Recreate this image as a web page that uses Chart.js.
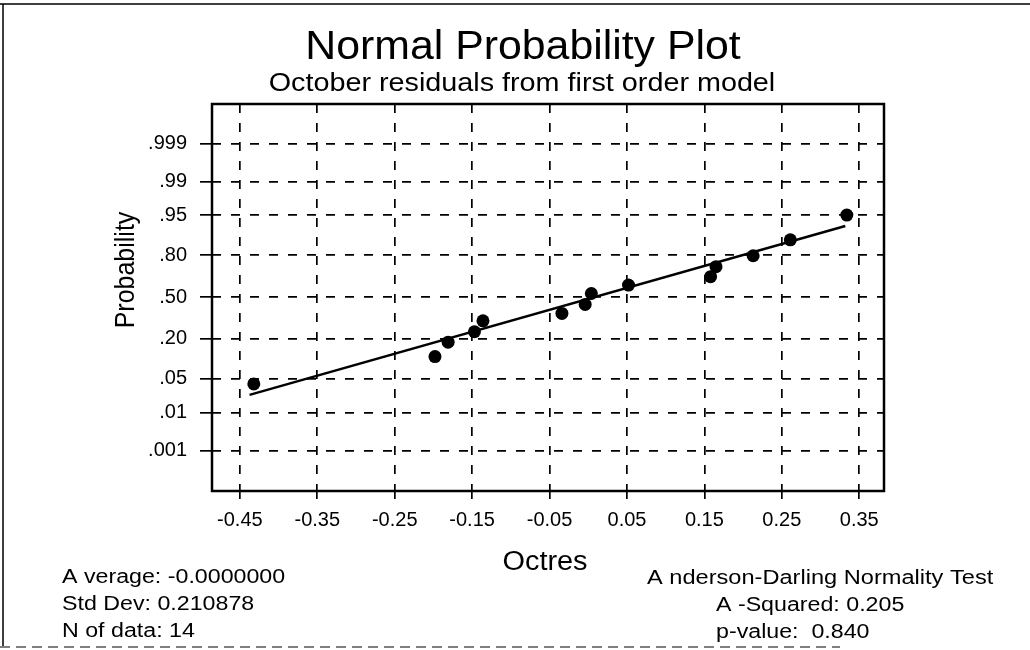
<!DOCTYPE html>
<html>
<head>
<meta charset="utf-8">
<title>Normal Probability Plot</title>
<script src="https://cdn.jsdelivr.net/npm/chart.js@4.4.0/dist/chart.umd.min.js"></script>
<style>
  html, body { margin: 0; padding: 0; background: #fff; }
  #wrap { width: 1030px; height: 650px; }
</style>
</head>
<body>
<div id="wrap"><canvas id="npp" width="1030" height="650"></canvas></div>
<script>
// residuals (Octres) and the normal score each one is plotted at
let octres    = [-0.432, -0.198, -0.181, -0.147, -0.136, -0.034, -0.004, 0.004, 0.052, 0.158, 0.165, 0.213, 0.261, 0.334];
let normScore = [-1.75, -1.20, -0.91, -0.70, -0.48, -0.33, -0.15, 0.07, 0.24, 0.41, 0.61, 0.83, 1.15, 1.65];

// ends of the fitted line
let fitX = [-0.4375, 0.332];
let fitZ = [-1.97, 1.43];

// probability axis: where each label sits (normal score) and what it says
let probTicks  = [-3.090, -2.326, -1.645, -0.842, 0, 0.842, 1.645, 2.326, 3.090];
let probLabels = ['.001', '.01', '.05', '.20', '.50', '.80', '.95', '.99', '.999'];

let xTicks  = [-0.45, -0.35, -0.25, -0.15, -0.05, 0.05, 0.15, 0.25, 0.35];
let xLabels = ['-0.45', '-0.35', '-0.25', '-0.15', '-0.05', '0.05', '0.15', '0.25', '0.35'];

let statsLeft  = ['A verage: -0.0000000', 'Std Dev: 0.210878', 'N of data: 14'];
let statsRight = ['A nderson-Darling Normality Test', 'A -Squared: 0.205', 'p-value:  0.840'];

const FONT = '"Liberation Sans", Arial, sans-serif';

// draws one string; sx widens it a little, the old printout font runs wide
function putText(ctx, str, x, y, size, align, sx, rotate) {
  ctx.save();
  ctx.font = size + 'px ' + FONT;
  ctx.fillStyle = '#000';
  ctx.textAlign = align;
  ctx.textBaseline = 'middle';
  ctx.translate(x, y);
  if (rotate) {
    ctx.rotate(-Math.PI / 2);
    ctx.scale(1, sx);
  } else {
    ctx.scale(sx, 1);
  }
  ctx.fillText(str, 0, 0);
  ctx.restore();
}

// frame round the plot, page border and all the loose text
const plotText = {
  id: 'plotText',
  afterDraw(chart) {
    const ctx = chart.ctx;
    const a = chart.chartArea;

    ctx.save();
    ctx.strokeStyle = '#000';
    ctx.lineWidth = 2.5;
    ctx.strokeRect(a.left, a.top, a.right - a.left, a.bottom - a.top);

    // page border
    ctx.lineWidth = 1.5;
    ctx.beginPath();
    ctx.moveTo(0, 4); ctx.lineTo(1030, 4);
    ctx.moveTo(3, 4); ctx.lineTo(3, 646);
    ctx.stroke();
    ctx.setLineDash([10, 6]);
    ctx.strokeStyle = '#555';
    ctx.beginPath();
    ctx.moveTo(0, 647); ctx.lineTo(840, 647);
    ctx.stroke();
    ctx.restore();

    putText(ctx, 'Normal Probability Plot', 523, 48, 40, 'center', 1.07);
    putText(ctx, 'October residuals from first order model', 522, 84, 25, 'center', 1.15);
    putText(ctx, 'Probability', 127, 270, 25, 'center', 1.07, true);
    putText(ctx, 'Octres', 545, 563, 27, 'center', 1.07);

    statsLeft.forEach((s, i) => putText(ctx, s, 62, 577 + i * 27, 20, 'left', 1.16));
    putText(ctx, statsRight[0], 647, 578, 20, 'left', 1.18);
    putText(ctx, statsRight[1], 716, 605, 20, 'left', 1.16);
    putText(ctx, statsRight[2], 716, 632, 20, 'left', 1.16);
  }
};

const gridLines = {
  color: '#000',
  lineWidth: 1.7,
  tickColor: '#000',
  tickWidth: 1.7
};

new Chart(document.getElementById('npp'), {
  type: 'scatter',
  data: {
    datasets: [
      {
        label: 'Octres',
        data: octres.map((x, i) => ({ x: x, y: normScore[i] })),
        pointRadius: 6.5,
        pointBackgroundColor: '#000',
        pointBorderColor: '#000',
        pointBorderWidth: 0
      },
      {
        label: 'fit',
        data: fitX.map((x, i) => ({ x: x, y: fitZ[i] })),
        showLine: true,
        borderColor: '#000',
        borderWidth: 2.5,
        pointRadius: 0
      }
    ]
  },
  options: {
    responsive: false,
    animation: false,
    layout: { padding: { top: 104, left: 112, right: 146, bottom: 114 } },
    plugins: {
      legend: { display: false },
      tooltip: { enabled: false }
    },
    scales: {
      x: {
        type: 'linear',
        min: -0.486,
        max: 0.382,
        afterBuildTicks: axis => { axis.ticks = xTicks.map(v => ({ value: v })); },
        afterFit: axis => { axis.height = 45; },
        ticks: {
          callback: (v, i) => xLabels[i],
          autoSkip: false,
          maxRotation: 0,
          padding: 9,
          color: '#000',
          font: { family: FONT, size: 20 }
        },
        grid: Object.assign({ tickLength: 8 }, gridLines),
        border: { display: false, dash: [9, 10] }
      },
      y: {
        type: 'linear',
        min: -3.905,
        max: 3.885,
        afterBuildTicks: axis => { axis.ticks = probTicks.map(v => ({ value: v })); },
        afterFit: axis => { axis.width = 100; },
        ticks: {
          callback: (v, i) => probLabels[i],
          autoSkip: false,
          padding: 13,
          color: '#000',
          font: { family: FONT, size: 20 }
        },
        grid: Object.assign({ tickLength: 12 }, gridLines),
        border: { display: false, dash: [9, 10] }
      }
    }
  },
  plugins: [plotText]
});
</script>
</body>
</html>
